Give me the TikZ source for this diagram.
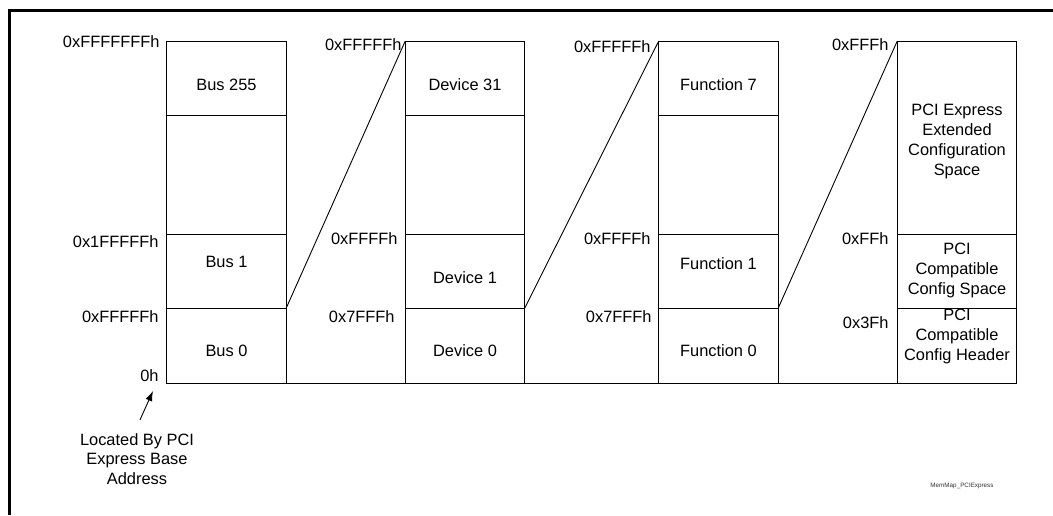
\documentclass[tikz,border=0pt]{standalone}
\usepackage{fontspec}
\setmainfont{Liberation Sans}
\usepackage{tikz}
\usetikzlibrary{positioning}
\usetikzlibrary{arrows.meta}

\newcommand{\cellfont}{\fontsize{16.4}{19.7}\selectfont}

\tikzstyle{cell} = [draw, rectangle, minimum width=119.5pt, inner sep=0pt, outer sep=0pt, line width=0.9pt]
\tikzstyle{celltext} = [font=\cellfont, align=center, inner sep=0pt]
\tikzstyle{hex} = [font=\cellfont, anchor=east, inner sep=0pt]
\tikzstyle{coord} = [coordinate]

\begin{document}
\begin{tikzpicture}[x=1pt, y=-1pt, >={Latex[length=10pt,width=7pt]}, line width=0.9pt]
\useasboundingbox (0,0) rectangle (1053,515);

% frame
\draw[line width=2.5pt] (9.5,515) -- (9.5,10.5) -- (1053,10.5);

% buses
\node [cell, minimum height=74pt] (bus255) at (226.5,78) {};
\node [cell, minimum height=119pt, below=0pt of bus255] (busgap) {};
\node [cell, minimum height=74pt, below=0pt of busgap] (bus1) {};
\node [cell, minimum height=75pt, below=0pt of bus1] (bus0) {};

% devices
\node [cell, minimum height=74pt] (dev31) at (465,78) {};
\node [cell, minimum height=119pt, below=0pt of dev31] (devgap) {};
\node [cell, minimum height=74pt, below=0pt of devgap] (dev1) {};
\node [cell, minimum height=75pt, below=0pt of dev1] (dev0) {};

% functions
\node [cell, minimum height=74pt] (fn7) at (718.5,78) {};
\node [cell, minimum height=119pt, below=0pt of fn7] (fngap) {};
\node [cell, minimum height=74pt, below=0pt of fngap] (fn1) {};
\node [cell, minimum height=75pt, below=0pt of fn1] (fn0) {};

% config space of one function
\node [cell, minimum height=193pt] (cfgext) at (957,137.5) {};
\node [cell, minimum height=74pt, below=0pt of cfgext] (cfgpci) {};
\node [cell, minimum height=75pt, below=0pt of cfgpci] (cfghdr) {};

% texts in the cells
\node [celltext] (tbus255) at ([yshift=-6.5pt]bus255.center) {Bus 255};
\node [celltext] (tbus1) at ([yshift=9pt]bus1.center) {Bus 1};
\node [celltext] (tbus0) at ([yshift=-5.5pt]bus0.center) {Bus 0};
\node [celltext] (tdev31) at ([yshift=-7pt]dev31.center) {Device 31};
\node [celltext] (tdev1) at ([yshift=-6.5pt]dev1.center) {Device 1};
\node [celltext] (tdev0) at ([yshift=-5.5pt]dev0.center) {Device 0};
\node [celltext] (tfn7) at ([yshift=-7pt]fn7.center) {Function 7};
\node [celltext] (tfn1) at ([yshift=7pt]fn1.center) {Function 1};
\node [celltext] (tfn0) at ([yshift=-5.5pt]fn0.center) {Function 0};
\node [celltext] (tcfgext) at ([yshift=-4pt]cfgext.center) {PCI Express\\Extended\\Configuration\\Space};
\node [celltext] (tcfgpci) at ([yshift=0.5pt]cfgpci.center) {PCI\\Compatible\\Config Space};
\node [celltext] (tcfghdr) at ([yshift=9pt]cfghdr.center) {PCI\\Compatible\\Config Header};

% addresses
\node [hex] (abustop) at (160,42) {0xFFFFFFFh};
\node [hex] (abus1) at (159,242) {0x1FFFFFh};
\node [hex] (abus0) at (159,317) {0xFFFFFh};
\node [hex] (abase) at (159,376) {0h};
\node [hex] (adevtop) at (402,45) {0xFFFFFh};
\node [hex] (adev1) at (398,238.5) {0xFFFFh};
\node [hex] (adev0) at (395,317) {0x7FFFh};
\node [hex] (afntop) at (651,47) {0xFFFFFh};
\node [hex] (afn1) at (651,239) {0xFFFFh};
\node [hex] (afn0) at (652,317) {0x7FFFh};
\node [hex] (acfgtop) at (889,45) {0xFFFh};
\node [hex] (acfgpci) at (889,239) {0xFFh};
\node [hex] (acfghdr) at (889,323) {0x3Fh};

% zoom lines
\draw (bus0.north east) -- (dev31.north west);
\draw (dev0.north east) -- (fn7.north west);
\draw (fn0.north east) -- (cfgext.north west);
\draw (bus0.south west) -- (cfghdr.south east);

% base address note
\node [celltext] (base) at (137,459) {Located By PCI\\Express Base\\Address};
\node [coord] (tip) at (153,391) {};
\draw [->] ([xshift=3pt,yshift=13pt]base.north) -- (tip);

\node [font=\fontsize{6.3}{7}\selectfont, text=black!80] (figid) at (962,486) {MemMap\_PCIExpress};
\end{tikzpicture}
\end{document}
